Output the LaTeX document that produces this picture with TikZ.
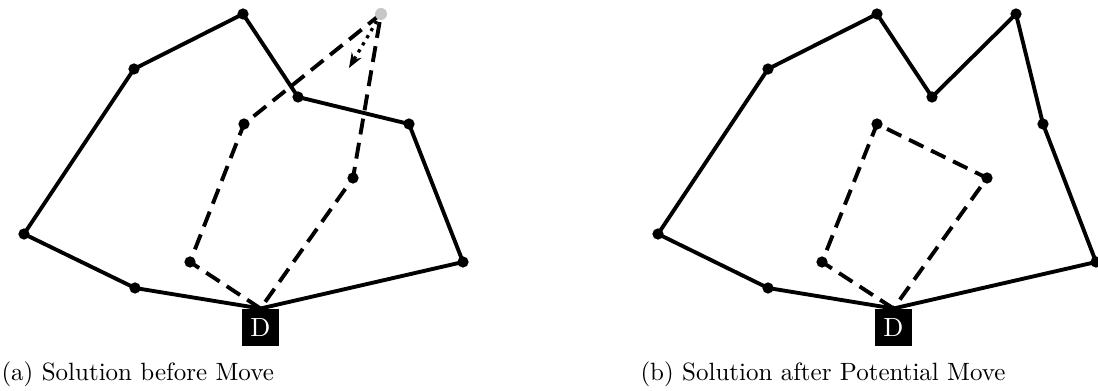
\documentclass[tikz,border=0pt]{standalone}
\usetikzlibrary{arrows.meta}
\begin{document}
\begin{tikzpicture}[x=0.4pt,y=-0.4pt,
  cust/.style={circle,fill=black,inner sep=0pt,minimum size=4.5pt},
  gcust/.style={circle,fill=black!22,inner sep=0pt,minimum size=4.8pt},
  depot/.style={fill=black,text=white,inner sep=0pt,minimum size=14.8pt,font=\fontsize{10.5}{12}\selectfont},
  route/.style={line width=1.55pt},
  droute/.style={line width=1.55pt,dash pattern=on 6.4pt off 3.4pt},
  move/.style={line width=1.3pt,dotted,-{Stealth[length=6pt,width=4.5pt,open]}},
  captext/.style={anchor=base west,inner sep=0pt,font=\fontsize{10}{12}\selectfont}]
\useasboundingbox (0,0) rectangle (1098,391);
% ---------- (a) ----------
\coordinate (a1) at (135,288);
\coordinate (a2) at (24,234);
\coordinate (a3) at (134,69);
\coordinate (a4) at (243,14);
\coordinate (a5) at (298,97);
\coordinate (a6) at (409,124);
\coordinate (a7) at (463,262);
\coordinate (b1) at (190,262);
\coordinate (b2) at (244,124);
\coordinate (g) at (381,14);
\coordinate (b3) at (353,178);
\coordinate (mt) at (349,68);
\node[depot] (Da) at (260.5,327.5) {D};
\draw[route] (Da.north) -- (a1) -- (a2) -- (a3) -- (a4) -- (a5) -- (a6) -- (a7) -- (Da.north);
\draw[droute] (Da.north) -- (b1) -- (b2) -- (g) -- (b3) -- (Da.north);
\draw[move] (g) -- (mt);
\foreach \p in {a1,a2,a3,a4,a5,a6,a7,b1,b2,b3} \node[cust] (n\p) at (\p) {};
\node[gcust] (ng) at (g) {};
\node[depot] at (Da) {D};
% ---------- (b) ----------
\coordinate (c1) at (768,288);
\coordinate (c2) at (658,234);
\coordinate (c3) at (768,69);
\coordinate (c4) at (877,14);
\coordinate (c5) at (932,97);
\coordinate (c6) at (1016,14);
\coordinate (c7) at (1043,124);
\coordinate (c8) at (1096,262);
\coordinate (d1) at (822,262);
\coordinate (d2) at (877,124);
\coordinate (d3) at (987,178);
\node[depot] (Db) at (893.5,327.5) {D};
\draw[route] (Db.north) -- (c1) -- (c2) -- (c3) -- (c4) -- (c5) -- (c6) -- (c7) -- (c8) -- (Db.north);
\draw[droute] (Db.north) -- (d1) -- (d2) -- (d3) -- (Db.north);
\foreach \p in {c1,c2,c3,c4,c5,c6,c7,c8,d1,d2,d3} \node[cust] (n\p) at (\p) {};
\node[depot] at (Db) {D};
% ---------- captions ----------
\node[captext] (capa) at (1,381) {(a) Solution before Move};
\node[captext] (capb) at (640,381) {(b) Solution after Potential Move};
\end{tikzpicture}
\end{document}
